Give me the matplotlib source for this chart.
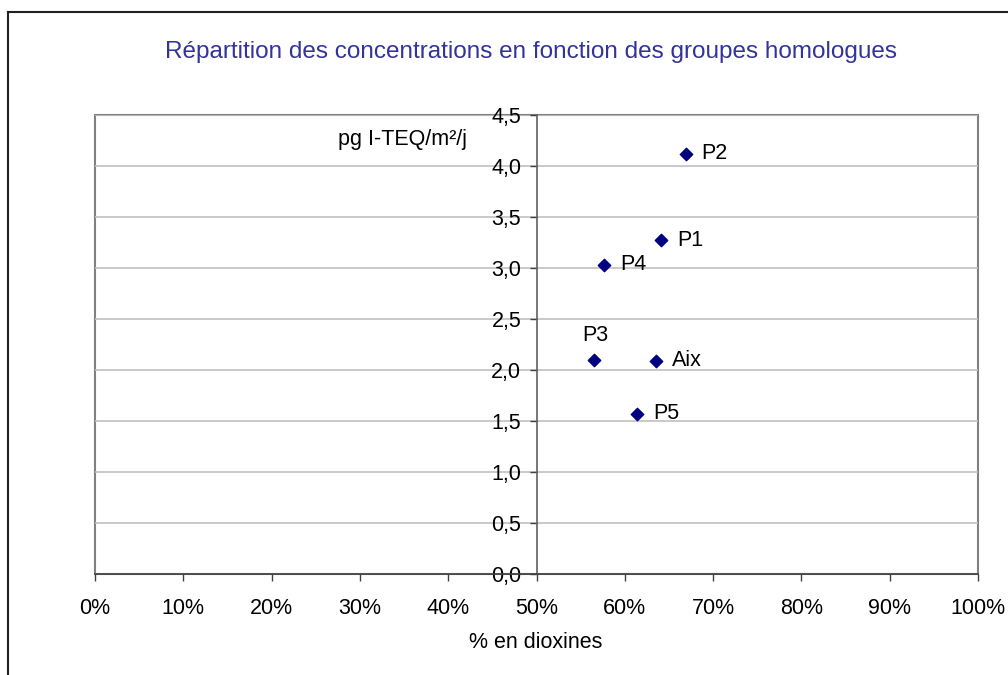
import matplotlib
matplotlib.use("Agg")
import matplotlib.pyplot as plt
from matplotlib.lines import Line2D
from matplotlib.patches import Rectangle
from matplotlib.ticker import FuncFormatter, MultipleLocator

plt.rcParams['font.family'] = ['Liberation Sans', 'DejaVu Sans']

labels = ["P2", "P1", "P4", "P3", "Aix", "P5"]
pct_dioxines = [0.669, 0.641, 0.577, 0.565, 0.635, 0.614]
concentration = [4.12, 3.27, 3.03, 2.10, 2.09, 1.57]

W, H = 1008, 675
FS = 15.5
fig = plt.figure(figsize=(W / 100, H / 100), dpi=100)
ax = fig.add_axes([95 / W, 1 - 574 / H, (978 - 95) / W, (574 - 115) / H])

ax.set_xlim(0, 1)
ax.set_ylim(0, 4.5)
ax.xaxis.set_major_locator(MultipleLocator(0.1))
ax.yaxis.set_major_locator(MultipleLocator(0.5))
ax.xaxis.set_major_formatter(FuncFormatter(lambda v, p: f"{v*100:.0f}%"))
ax.yaxis.set_major_formatter(FuncFormatter(lambda v, p: f"{v:.1f}".replace(".", ",")))

ax.grid(axis='y', color='#c0c0c0', linewidth=1.2)
ax.set_axisbelow(True)

for s in ['top', 'right']:
    ax.spines[s].set_visible(False)
ax.spines['left'].set_position(('data', 0.5))
ax.spines['left'].set_color('#606060')
ax.spines['bottom'].set_color('#404040')
ax.spines['left'].set_linewidth(1.2)
ax.spines['bottom'].set_linewidth(1.2)
ax.add_patch(Rectangle((0, 0), 1, 1, transform=ax.transAxes, fill=False,
                       edgecolor='#808080', linewidth=1.5, clip_on=False, zorder=0.5))

ax.tick_params(axis='x', direction='out', length=5, width=1, color='#404040',
               labelsize=FS, pad=12)
ax.tick_params(axis='y', direction='out', length=5, width=1, color='#404040',
               labelsize=FS, pad=6)
for t in ax.get_yticklabels():
    t.set_zorder(5)

ax.scatter(pct_dioxines, concentration, marker='D', s=40, color='#000080', zorder=4)

offsets = {"P3": (0.002, 0.235, 'center')}
for lab, x, y in zip(labels, pct_dioxines, concentration):
    if lab in offsets:
        dx, dy, ha = offsets[lab]
        ax.text(x + dx, y + dy, lab, fontsize=FS, ha=ha, va='center', color='black')
    else:
        ax.text(x + 0.018, y, lab, fontsize=FS, ha='left', va='center', color='black')

ax.text(0.275, 4.26, "pg I-TEQ/m²/j", fontsize=FS, ha='left', va='center')

fig.text(531 / W, 1 - 58 / H, "Répartition des concentrations en fonction des groupes homologues",
         fontsize=17.5, color='#333399', ha='center', va='baseline')
fig.text(536 / W, 1 - 643 / H, "% en dioxines", fontsize=FS, ha='center', va='center')

# outer chart frame
fig.add_artist(Line2D([8 / W, 8 / W], [0, 1 - 12 / H], color='#202020', linewidth=1.5))
fig.add_artist(Line2D([8 / W, 1], [1 - 12 / H, 1 - 12 / H], color='#202020', linewidth=1.5))

fig.savefig("out.png", dpi=100)
